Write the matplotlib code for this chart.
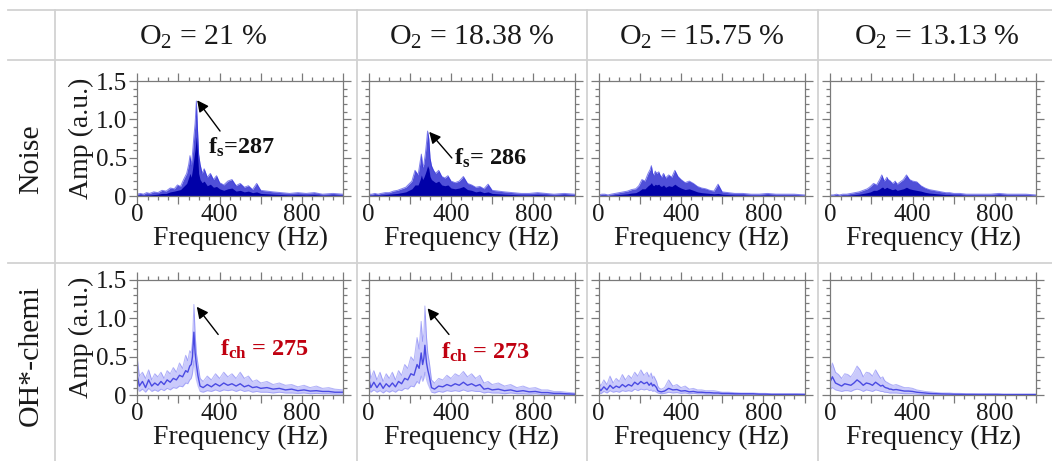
import numpy as np
import matplotlib
matplotlib.use("Agg")
import matplotlib.pyplot as plt
from matplotlib.lines import Line2D
from matplotlib.ticker import MultipleLocator, FuncFormatter

plt.rcParams["font.family"] = ["Liberation Serif", "DejaVu Serif"]
plt.rcParams["mathtext.fontset"] = "custom"
plt.rcParams["mathtext.rm"] = "Liberation Serif"
plt.rcParams["mathtext.it"] = "Liberation Serif:italic"
plt.rcParams["mathtext.bf"] = "Liberation Serif:bold"

# ---------------------------------------------------------------- data
o2_levels = ["21", "18.38", "15.75", "13.13"]
row_names = ["Noise", "OH*-chemi"]

# Acoustic (noise) spectra: shared frequency nodes, envelope and dense core
noise_freq = [0, 15, 30, 45, 60, 80, 100, 120, 140, 160,
              180, 195, 210, 225, 240, 250, 256, 262, 268, 275,
              281, 292, 298, 305, 315, 325, 340, 355, 370, 385,
              400, 420, 440, 460, 480, 500, 520, 540, 560, 580,
              600, 630, 660, 700, 740, 780, 820, 860, 900, 950, 1000]

noise_21_env = [0.03, 0.04, 0.03, 0.05, 0.04, 0.06, 0.05, 0.08, 0.07, 0.11,
                0.10, 0.15, 0.13, 0.22, 0.30, 0.42, 0.53, 0.40, 0.55, 0.78,
                0.95, 0.90, 0.55, 0.42, 0.30, 0.36, 0.25, 0.30, 0.22, 0.27,
                0.18, 0.15, 0.20, 0.22, 0.14, 0.17, 0.12, 0.14, 0.09, 0.17,
                0.08, 0.07, 0.06, 0.05, 0.04, 0.05, 0.04, 0.05, 0.03, 0.04, 0.03]
noise_21_core = [0.015, 0.02, 0.015, 0.02, 0.02, 0.025, 0.03, 0.04, 0.04, 0.06,
                 0.07, 0.08, 0.09, 0.13, 0.17, 0.25, 0.30, 0.25, 0.35, 0.50,
                 0.62, 0.60, 0.30, 0.22, 0.18, 0.20, 0.14, 0.16, 0.12, 0.13,
                 0.10, 0.08, 0.10, 0.11, 0.07, 0.08, 0.06, 0.07, 0.05, 0.06,
                 0.04, 0.035, 0.03, 0.025, 0.02, 0.025, 0.02, 0.025, 0.015, 0.02, 0.015]

noise_1838_env = [0.03, 0.03, 0.04, 0.03, 0.04, 0.05, 0.05, 0.07, 0.08, 0.10,
                  0.12, 0.16, 0.20, 0.34, 0.28, 0.45, 0.55, 0.38, 0.42, 0.55,
                  0.70, 0.75, 0.50, 0.40, 0.34, 0.30, 0.34, 0.26, 0.24, 0.27,
                  0.20, 0.18, 0.20, 0.26, 0.17, 0.15, 0.12, 0.13, 0.10, 0.16,
                  0.08, 0.07, 0.06, 0.05, 0.04, 0.04, 0.05, 0.04, 0.03, 0.04, 0.03]
noise_1838_core = [0.015, 0.015, 0.02, 0.02, 0.02, 0.025, 0.03, 0.035, 0.04, 0.05,
                   0.06, 0.08, 0.10, 0.15, 0.15, 0.22, 0.28, 0.22, 0.25, 0.30,
                   0.35, 0.36, 0.26, 0.22, 0.20, 0.18, 0.20, 0.15, 0.14, 0.15,
                   0.11, 0.10, 0.11, 0.13, 0.09, 0.08, 0.06, 0.07, 0.05, 0.06,
                   0.04, 0.035, 0.03, 0.025, 0.02, 0.02, 0.025, 0.02, 0.015, 0.02, 0.015]

noise_1575_env = [0.02, 0.03, 0.03, 0.02, 0.03, 0.04, 0.05, 0.06, 0.07, 0.09,
                  0.10, 0.14, 0.22, 0.20, 0.30, 0.35, 0.40, 0.30, 0.28, 0.33,
                  0.30, 0.32, 0.28, 0.25, 0.30, 0.24, 0.28, 0.25, 0.34, 0.26,
                  0.22, 0.18, 0.20, 0.17, 0.13, 0.11, 0.10, 0.08, 0.07, 0.16,
                  0.06, 0.05, 0.04, 0.04, 0.03, 0.03, 0.04, 0.03, 0.03, 0.03, 0.02]
noise_1575_core = [0.01, 0.015, 0.015, 0.01, 0.015, 0.02, 0.025, 0.03, 0.035, 0.045,
                   0.05, 0.07, 0.10, 0.10, 0.14, 0.16, 0.18, 0.15, 0.14, 0.16,
                   0.15, 0.16, 0.14, 0.13, 0.15, 0.12, 0.14, 0.13, 0.16, 0.13,
                   0.11, 0.09, 0.10, 0.08, 0.06, 0.05, 0.045, 0.04, 0.035, 0.04,
                   0.03, 0.025, 0.02, 0.02, 0.015, 0.015, 0.02, 0.015, 0.015, 0.015, 0.01]

noise_1313_env = [0.02, 0.02, 0.03, 0.02, 0.03, 0.03, 0.04, 0.05, 0.06, 0.08,
                  0.10, 0.13, 0.17, 0.15, 0.22, 0.28, 0.24, 0.20, 0.22, 0.25,
                  0.22, 0.20, 0.18, 0.17, 0.20, 0.16, 0.19, 0.22, 0.28, 0.22,
                  0.20, 0.19, 0.14, 0.11, 0.09, 0.08, 0.07, 0.06, 0.05, 0.05,
                  0.04, 0.04, 0.03, 0.03, 0.03, 0.03, 0.04, 0.03, 0.03, 0.03, 0.02]
noise_1313_core = [0.01, 0.01, 0.015, 0.01, 0.015, 0.015, 0.02, 0.025, 0.03, 0.04,
                   0.05, 0.06, 0.08, 0.08, 0.10, 0.12, 0.12, 0.10, 0.11, 0.12,
                   0.11, 0.10, 0.09, 0.09, 0.10, 0.08, 0.09, 0.10, 0.12, 0.10,
                   0.09, 0.08, 0.07, 0.055, 0.045, 0.04, 0.035, 0.03, 0.025, 0.025,
                   0.02, 0.02, 0.015, 0.015, 0.015, 0.015, 0.02, 0.015, 0.015, 0.015, 0.01]

# Dominant noise peaks: (frequency Hz, envelope amp, core amp); None = no marked peak
noise_peaks = [(287, 1.24, 0.78), (286, 0.85, 0.40), None, None]

# OH* chemiluminescence spectra: upper, middle and lower traces
oh_freq = [0, 10, 25, 40, 55, 70, 85, 100, 115, 130,
           145, 160, 175, 190, 205, 220, 235, 245, 255, 262,
           268, 281, 287, 295, 305, 320, 340, 360, 380, 400,
           420, 440, 460, 480, 500, 520, 540, 560, 580, 600,
           630, 660, 690, 720, 750, 780, 810, 840, 870, 900,
           930, 960, 1000]

oh_21_hi = [0.48, 0.25, 0.30, 0.22, 0.33, 0.20, 0.28, 0.24, 0.30, 0.22,
            0.32, 0.28, 0.36, 0.30, 0.42, 0.35, 0.52, 0.45, 0.58, 0.55,
            0.70, 0.80, 0.55, 0.40, 0.22, 0.18, 0.25, 0.20, 0.28, 0.22,
            0.30, 0.24, 0.28, 0.22, 0.30, 0.22, 0.25, 0.18, 0.20, 0.16,
            0.18, 0.14, 0.16, 0.13, 0.14, 0.11, 0.13, 0.10, 0.12, 0.09,
            0.10, 0.08, 0.07]
oh_21_mid = [0.25, 0.12, 0.18, 0.10, 0.20, 0.12, 0.16, 0.13, 0.18, 0.14,
             0.20, 0.17, 0.22, 0.20, 0.26, 0.24, 0.32, 0.30, 0.38, 0.40,
             0.50, 0.55, 0.40, 0.25, 0.12, 0.10, 0.14, 0.11, 0.15, 0.12,
             0.16, 0.13, 0.15, 0.12, 0.15, 0.11, 0.13, 0.10, 0.11, 0.09,
             0.10, 0.08, 0.09, 0.07, 0.08, 0.06, 0.07, 0.055, 0.06, 0.05,
             0.05, 0.04, 0.04]
oh_21_lo = [0.10, 0.05, 0.08, 0.04, 0.09, 0.05, 0.07, 0.05, 0.08, 0.06,
            0.09, 0.07, 0.10, 0.09, 0.12, 0.11, 0.16, 0.15, 0.20, 0.22,
            0.28, 0.30, 0.20, 0.12, 0.05, 0.04, 0.06, 0.05, 0.07, 0.05,
            0.07, 0.06, 0.07, 0.05, 0.07, 0.05, 0.06, 0.04, 0.05, 0.04,
            0.04, 0.03, 0.04, 0.03, 0.03, 0.025, 0.03, 0.02, 0.025, 0.02,
            0.02, 0.015, 0.015]

oh_1838_hi = [0.44, 0.22, 0.32, 0.20, 0.30, 0.18, 0.28, 0.22, 0.30, 0.20,
              0.32, 0.26, 0.40, 0.35, 0.50, 0.45, 0.75, 0.60, 0.96, 0.70,
              0.80, 0.75, 0.55, 0.42, 0.20, 0.16, 0.22, 0.20, 0.26, 0.22,
              0.28, 0.25, 0.31, 0.24, 0.28, 0.22, 0.26, 0.16, 0.18, 0.14,
              0.16, 0.12, 0.14, 0.10, 0.12, 0.09, 0.10, 0.07, 0.07, 0.05,
              0.05, 0.04, 0.03]
oh_1838_mid = [0.22, 0.10, 0.17, 0.10, 0.16, 0.09, 0.15, 0.11, 0.16, 0.11,
               0.18, 0.15, 0.22, 0.20, 0.28, 0.26, 0.40, 0.35, 0.55, 0.40,
               0.48, 0.42, 0.33, 0.24, 0.10, 0.08, 0.12, 0.11, 0.14, 0.12,
               0.15, 0.13, 0.17, 0.13, 0.15, 0.12, 0.14, 0.08, 0.09, 0.07,
               0.08, 0.06, 0.07, 0.05, 0.06, 0.045, 0.05, 0.035, 0.035, 0.025,
               0.025, 0.02, 0.015]
oh_1838_lo = [0.08, 0.04, 0.07, 0.04, 0.06, 0.03, 0.06, 0.04, 0.06, 0.04,
              0.07, 0.06, 0.09, 0.08, 0.12, 0.11, 0.18, 0.15, 0.25, 0.18,
              0.22, 0.20, 0.15, 0.10, 0.04, 0.03, 0.05, 0.04, 0.06, 0.05,
              0.06, 0.05, 0.07, 0.05, 0.06, 0.05, 0.05, 0.03, 0.04, 0.03,
              0.03, 0.02, 0.03, 0.02, 0.02, 0.015, 0.02, 0.01, 0.01, 0.01,
              0.01, 0.01, 0.005]

oh_1575_hi = [0.18, 0.12, 0.20, 0.14, 0.25, 0.16, 0.22, 0.18, 0.27, 0.20,
              0.26, 0.22, 0.30, 0.25, 0.33, 0.26, 0.30, 0.24, 0.29, 0.22,
              0.25, 0.18, 0.12, 0.09, 0.08, 0.10, 0.20, 0.12, 0.14, 0.10,
              0.12, 0.08, 0.09, 0.07, 0.07, 0.06, 0.06, 0.06, 0.05, 0.04,
              0.04, 0.035, 0.03, 0.03, 0.03, 0.025, 0.025, 0.02, 0.02, 0.02,
              0.02, 0.02, 0.02]
oh_1575_mid = [0.10, 0.06, 0.11, 0.07, 0.13, 0.09, 0.12, 0.10, 0.14, 0.11,
               0.14, 0.12, 0.17, 0.14, 0.18, 0.15, 0.17, 0.13, 0.16, 0.12,
               0.14, 0.10, 0.06, 0.05, 0.045, 0.055, 0.09, 0.07, 0.075, 0.055,
               0.06, 0.045, 0.05, 0.04, 0.04, 0.035, 0.035, 0.03, 0.03, 0.025,
               0.025, 0.02, 0.02, 0.02, 0.02, 0.015, 0.015, 0.012, 0.012, 0.012,
               0.012, 0.012, 0.01]
oh_1575_lo = [0.04, 0.02, 0.05, 0.03, 0.06, 0.04, 0.05, 0.04, 0.06, 0.05,
              0.06, 0.05, 0.08, 0.06, 0.08, 0.07, 0.08, 0.06, 0.07, 0.05,
              0.06, 0.04, 0.03, 0.025, 0.02, 0.025, 0.04, 0.03, 0.035, 0.025,
              0.03, 0.02, 0.025, 0.02, 0.02, 0.015, 0.015, 0.015, 0.015, 0.01,
              0.01, 0.01, 0.01, 0.01, 0.01, 0.008, 0.008, 0.005, 0.005, 0.005,
              0.005, 0.005, 0.005]

oh_1313_hi = [0.30, 0.42, 0.30, 0.27, 0.22, 0.28, 0.27, 0.24, 0.30, 0.38,
              0.33, 0.24, 0.30, 0.29, 0.25, 0.33, 0.26, 0.22, 0.24, 0.20,
              0.18, 0.16, 0.15, 0.14, 0.13, 0.14, 0.12, 0.10, 0.10, 0.09,
              0.07, 0.06, 0.05, 0.045, 0.04, 0.035, 0.03, 0.03, 0.03, 0.025,
              0.025, 0.02, 0.02, 0.02, 0.02, 0.02, 0.02, 0.015, 0.015, 0.015,
              0.015, 0.015, 0.015]
oh_1313_mid = [0.18, 0.24, 0.16, 0.14, 0.12, 0.15, 0.14, 0.13, 0.16, 0.20,
               0.17, 0.13, 0.16, 0.15, 0.13, 0.17, 0.14, 0.12, 0.13, 0.11,
               0.10, 0.09, 0.08, 0.08, 0.07, 0.075, 0.065, 0.055, 0.055, 0.05,
               0.04, 0.035, 0.03, 0.025, 0.022, 0.02, 0.018, 0.017, 0.016, 0.014,
               0.013, 0.012, 0.012, 0.011, 0.011, 0.011, 0.011, 0.01, 0.01, 0.01,
               0.01, 0.01, 0.01]
oh_1313_lo = [0.08, 0.10, 0.07, 0.06, 0.05, 0.06, 0.06, 0.05, 0.07, 0.08,
              0.07, 0.05, 0.07, 0.06, 0.05, 0.07, 0.06, 0.05, 0.05, 0.04,
              0.04, 0.035, 0.03, 0.03, 0.03, 0.03, 0.025, 0.02, 0.02, 0.02,
              0.015, 0.012, 0.01, 0.008, 0.006, 0.005, 0.005, 0.005, 0.005, 0.005,
              0.005, 0.005, 0.005, 0.005, 0.005, 0.005, 0.005, 0.005, 0.005, 0.005,
              0.005, 0.005, 0.005]

# Dominant OH* peaks: (frequency Hz, upper, middle, lower)
oh_peaks = [(275, 1.18, 0.82, 0.45), (273, 1.16, 0.65, 0.30), None, None]

noise_series = [(noise_21_env, noise_21_core), (noise_1838_env, noise_1838_core),
                (noise_1575_env, noise_1575_core), (noise_1313_env, noise_1313_core)]
oh_series = [(oh_21_hi, oh_21_mid, oh_21_lo), (oh_1838_hi, oh_1838_mid, oh_1838_lo),
             (oh_1575_hi, oh_1575_mid, oh_1575_lo), (oh_1313_hi, oh_1313_mid, oh_1313_lo)]


def add_peak(freq, arrays, peak):
    """Insert the labelled peak node into a frequency grid and its traces."""
    f = np.asarray(freq, float)
    arrs = [np.asarray(a, float) for a in arrays]
    if peak is None:
        return f, arrs
    idx = np.searchsorted(f, peak[0])
    f = np.insert(f, idx, peak[0])
    arrs = [np.insert(a, idx, v) for a, v in zip(arrs, peak[1:])]
    return f, arrs


# ---------------------------------------------------------------- layout
W, H = 1052, 461
fig = plt.figure(figsize=(W / 100, H / 100), dpi=100)
fig.patch.set_facecolor("white")

TXT = "#1a1a1a"
GRID = "#d2d2d2"
AXC = "#7a7a7a"

col_left = [137.3, 368.7, 598.7, 830.3]
ax_w = 205.8
row_bottom = [196.5, 395.3]
ax_h = 115.5

# table lines
for x in [55, 357, 587, 818]:
    fig.add_artist(Line2D([x / W, x / W], [1 - 10 / H, 0], color=GRID, lw=1.3))
for y in [10, 60, 263]:
    fig.add_artist(Line2D([8 / W, 1], [1 - y / H, 1 - y / H], color=GRID, lw=1.3))

# column headers
col_centers = [203, 472, 702, 937]
for cx, lvl in zip(col_centers, o2_levels):
    fig.text(cx / W, 1 - 37 / H, f"O$_2$ = {lvl} %", ha="center", va="center",
             fontsize=21.5, color=TXT)

# row headers
for cy, name in zip([159, 356], row_names):
    fig.text(31 / W, 1 - cy / H, name, rotation=90, ha="center", va="center",
             fontsize=21.5, color=TXT)


def style_axes(ax, show_y):
    ax.set_xlim(0, 1000)
    ax.set_ylim(0, 1.5)
    ax.xaxis.set_major_locator(MultipleLocator(200))
    ax.xaxis.set_minor_locator(MultipleLocator(50))
    ax.yaxis.set_major_locator(MultipleLocator(0.5))
    ax.yaxis.set_minor_locator(MultipleLocator(0.1))
    ax.xaxis.set_major_formatter(FuncFormatter(
        lambda v, p: f"{v:.0f}" if round(v) % 400 == 0 else ""))
    if show_y:
        ax.yaxis.set_major_formatter(FuncFormatter(
            lambda v, p: "0" if abs(v) < 1e-9 else f"{v:.1f}"))
    else:
        ax.yaxis.set_major_formatter(FuncFormatter(lambda v, p: ""))
    ax.tick_params(which="both", direction="out", top=True, right=True,
                   color=AXC, width=0.9, labelcolor=TXT, labelsize=18)
    ax.tick_params(which="major", length=5.5, pad=0)
    ax.tick_params(which="minor", length=3)
    ax.tick_params(axis="y", pad=2)
    for s in ax.spines.values():
        s.set_color(AXC)
        s.set_linewidth(0.9)
    ax.set_xlabel("Frequency (Hz)", fontsize=20, color=TXT, labelpad=0)
    if show_y:
        ax.set_ylabel("Amp (a.u.)", fontsize=20, color=TXT, labelpad=1)


noise_labels = [r"$\mathbf{f_s}$=287", r"$\mathbf{f_s}$= 286", None, None]
noise_arrow = [((291, 1.25), (402, 0.85), (344, 0.64)),
               ((294, 0.84), (404, 0.50), (413, 0.50)), None, None]
oh_labels = [r"$\mathbf{f_{ch}}$ = 275", r"$\mathbf{f_{ch}}$ = 273", None, None]
oh_arrow = [((289, 1.15), (393, 0.79), (404, 0.60)),
            ((286, 1.13), (390, 0.79), (353, 0.56)), None, None]

arrow_kw = dict(arrowstyle="-|>", color="black", lw=1.0, mutation_scale=17,
                shrinkA=0, shrinkB=0)

for i in range(4):
    # noise row
    ax = fig.add_axes([col_left[i] / W, 1 - row_bottom[0] / H, ax_w / W, ax_h / H])
    f, (env, core) = add_peak(noise_freq, noise_series[i], noise_peaks[i])
    ax.fill_between(f, 0, env, color="#1414cc", alpha=0.75, lw=0)
    ax.fill_between(f, 0, core, color="#0000a8", lw=0)
    ax.plot(f, env, color="#2a2ae0", lw=0.7, alpha=0.6)
    style_axes(ax, i == 0)
    if noise_labels[i]:
        tip, tail, txt = noise_arrow[i]
        ax.annotate("", xy=tip, xytext=tail, arrowprops=arrow_kw)
        ax.text(txt[0], txt[1], noise_labels[i], fontsize=17.5, fontweight="bold",
                color="#111111", ha="left", va="center")

    # OH* row
    ax = fig.add_axes([col_left[i] / W, 1 - row_bottom[1] / H, ax_w / W, ax_h / H])
    f, (hi, mid, lo) = add_peak(oh_freq, oh_series[i], oh_peaks[i])
    ax.fill_between(f, lo, hi, color="#5050f2", alpha=0.3, lw=0)
    ax.plot(f, hi, color="#5a5af2", lw=0.7, alpha=0.45)
    ax.plot(f, lo, color="#5a5af2", lw=0.7, alpha=0.35)
    ax.plot(f, mid, color="#2a2adc", lw=1.0, alpha=0.8)
    style_axes(ax, i == 0)
    if oh_labels[i]:
        tip, tail, txt = oh_arrow[i]
        ax.annotate("", xy=tip, xytext=tail, arrowprops=arrow_kw)
        ax.text(txt[0], txt[1], oh_labels[i], fontsize=17.5, fontweight="bold",
                color="#c00010", ha="left", va="center")

fig.savefig("out.png", dpi=100)
